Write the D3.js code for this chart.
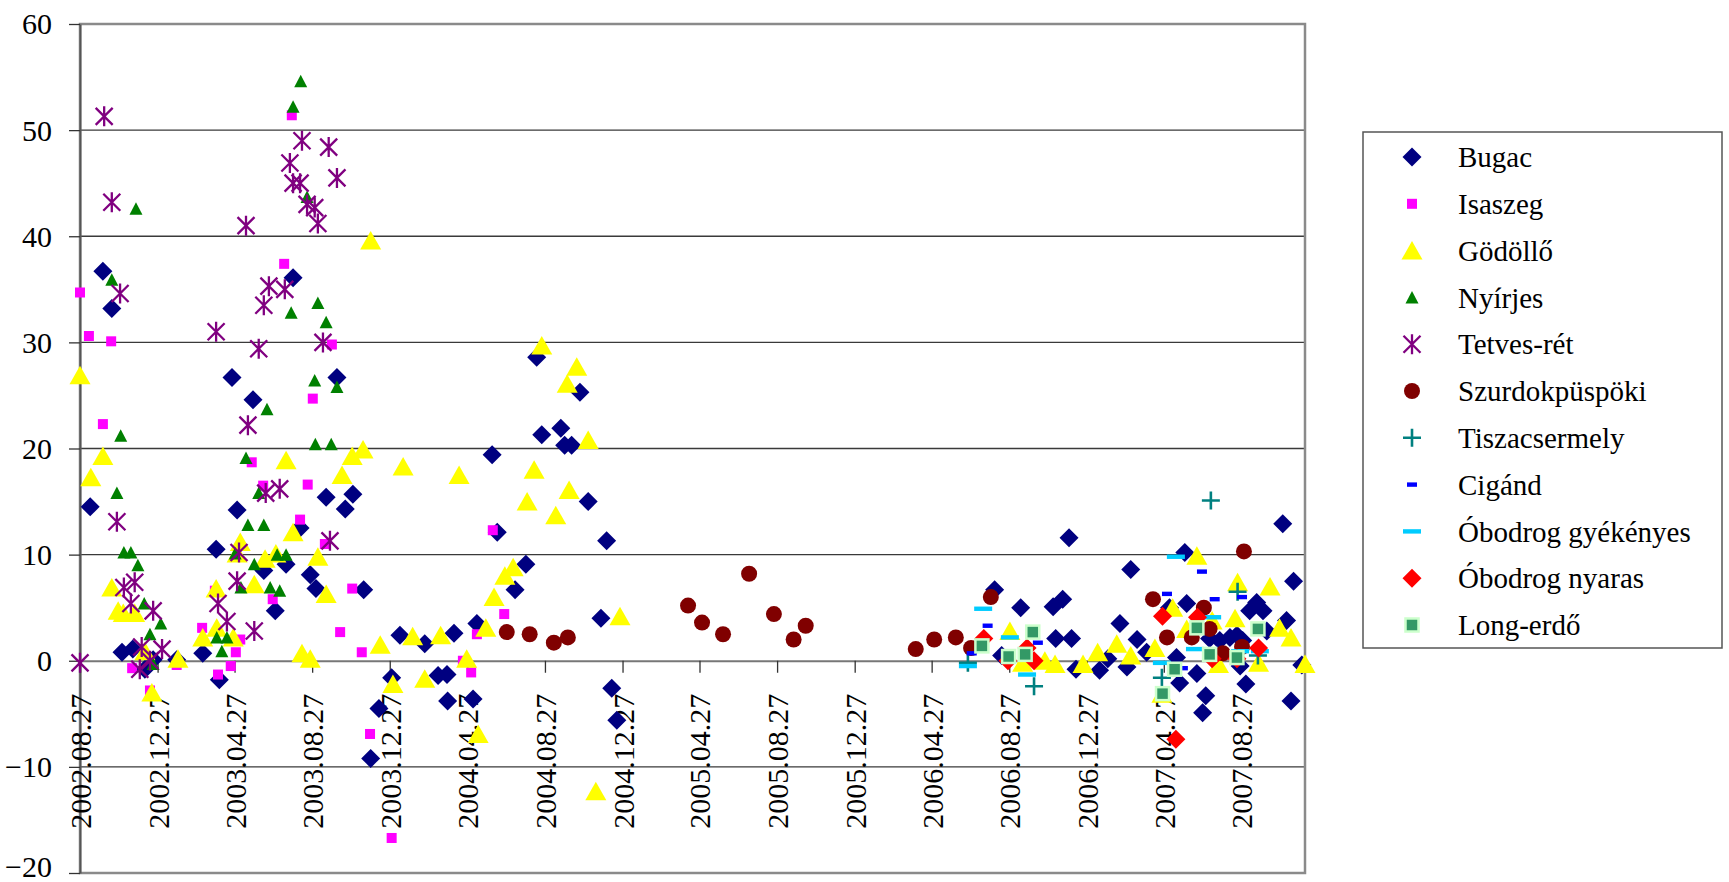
<!DOCTYPE html>
<html>
<head>
<meta charset="utf-8">
<script src="https://cdn.jsdelivr.net/npm/d3@7"></script>
<style>
  body { margin: 0; background: #fff; }
  svg { display: block; }
</style>
</head>
<body>
<div class="canvas"></div>
<script>
// tick labels
const xTickLabels = ['2002.08.27','2002.12.27','2003.04.27','2003.08.27','2003.12.27','2004.04.27',
  '2004.08.27','2004.12.27','2005.04.27','2005.08.27','2005.12.27','2006.04.27','2006.08.27',
  '2006.12.27','2007.04.27','2007.08.27']
const yTicks = [60, 50, 40, 30, 20, 10, 0, -10, -20]

// series values [date, value]
const bugac = [
  ['2002-09-12',14.5],['2002-10-02',36.7],['2002-10-16',33.2],['2002-11-01',0.8],['2002-11-18',1.1],
  ['2002-12-07',-0.8],['2002-12-20',0.1],['2003-01-26',0.1],['2003-03-08',0.7],['2003-03-29',10.5],
  ['2003-04-03',-1.8],['2003-04-23',26.7],['2003-05-01',14.2],['2003-05-26',24.6],['2003-06-12',8.5],
  ['2003-06-30',4.7],['2003-07-17',9.1],['2003-07-28',36.1],['2003-08-08',12.5],['2003-08-24',8.1],
  ['2003-09-02',6.8],['2003-09-18',15.4],['2003-10-05',26.7],['2003-10-18',14.3],['2003-10-30',15.7],
  ['2003-11-16',6.7],['2003-11-27',-9.2],['2003-12-10',-4.5],['2003-12-30',-1.6],['2004-01-12',2.4],
  ['2004-02-20',1.6],['2004-03-12',-1.4],['2004-03-26',-1.3],['2004-03-27',-3.8],['2004-04-06',2.6],
  ['2004-05-06',-3.6],['2004-05-12',3.5],['2004-06-05',19.4],['2004-06-13',12.1],['2004-07-11',6.7],
  ['2004-07-28',9.1],['2004-08-14',28.6],['2004-08-22',21.3],['2004-09-21',21.9],['2004-09-27',20.3],
  ['2004-10-08',20.3],['2004-10-21',25.3],['2004-11-03',15.0],['2004-11-23',4.0],['2004-12-02',11.3],
  ['2004-12-10',-2.6],['2004-12-18',-5.6],
  ['2006-08-04',6.7],['2006-08-15',0.5],['2006-09-14',5.0],['2006-11-04',5.1],['2006-11-08',2.1],
  ['2006-11-19',5.8],['2006-11-29',11.6],['2006-12-03',2.1],['2006-12-10',-0.8],['2007-01-16',-0.9],
  ['2007-01-29',0.2],['2007-02-17',3.5],['2007-02-28',-0.6],['2007-03-06',8.6],['2007-03-16',2.0],
  ['2007-03-31',0.8],['2007-05-06',5.0],['2007-05-17',0.3],['2007-05-22',-2.1],['2007-05-30',10.2],
  ['2007-06-02',5.4],['2007-06-18',-1.2],['2007-06-27',-4.9],['2007-07-02',-3.3],['2007-07-08',2.1],
  ['2007-07-24',1.9],['2007-08-09',2.2],['2007-08-20',2.4],['2007-08-25',-0.5],['2007-08-29',1.9],
  ['2007-09-03',-2.2],['2007-09-09',4.7],['2007-09-20',5.5],['2007-09-30',4.7],['2007-10-06',2.8],
  ['2007-10-31',12.9],['2007-11-06',3.8],['2007-11-13',-3.8],['2007-11-17',7.5],['2007-11-30',-0.4]
]
const isaszeg = [
  ['2002-08-27',34.7],['2002-09-10',30.6],['2002-10-15',30.1],['2002-10-02',22.3],['2002-10-29',4.4],
  ['2002-11-17',-0.7],['2002-12-15',-2.8],['2003-01-26',-0.4],['2003-03-07',3.1],['2003-03-27',6.6],
  ['2003-04-01',-1.3],['2003-04-21',-0.5],['2003-04-29',0.8],['2003-05-06',2.0],['2003-05-24',18.7],
  ['2003-06-11',16.5],['2003-06-26',5.8],['2003-07-14',37.4],['2003-07-26',51.4],['2003-08-08',13.3],
  ['2003-08-20',16.6],['2003-08-28',24.7],['2003-09-16',11.0],['2003-09-27',29.8],['2003-10-10',2.7],
  ['2003-10-29',6.8],['2003-11-13',0.8],['2003-11-26',-6.9],['2003-12-30',-16.7],['2004-04-20',0.0],
  ['2004-05-03',-1.1],['2004-05-12',2.5],['2004-06-06',12.3],['2004-06-24',4.4]
]
const godollo = [
  ['2002-08-27',26.9],['2002-09-13',17.3],['2002-10-02',19.3],['2002-10-16',6.9],['2002-10-26',4.7],
  ['2002-11-03',4.5],['2002-11-21',4.5],['2002-12-07',0.9],['2002-12-18',-3.0],['2003-01-28',0.2],
  ['2003-03-08',2.2],['2003-03-29',6.8],['2003-03-30',3.1],['2003-04-25',2.2],['2003-05-01',10.1],
  ['2003-05-06',11.2],['2003-05-28',7.2],['2003-06-14',9.6],['2003-07-01',10.1],['2003-07-17',18.9],
  ['2003-07-28',12.1],['2003-08-11',0.7],['2003-08-24',0.2],['2003-09-05',9.8],['2003-09-18',6.3],
  ['2003-10-13',17.5],['2003-10-29',19.3],['2003-11-15',19.9],['2003-11-27',39.6],['2003-12-12',1.5],
  ['2004-01-01',-2.2],['2004-01-17',18.3],['2004-02-01',2.3],['2004-02-20',-1.7],['2004-03-16',2.4],
  ['2004-04-14',17.5],['2004-04-26',0.2],['2004-05-14',-6.9],['2004-05-26',3.1],['2004-06-08',6.0],
  ['2004-06-25',8.0],['2004-07-08',8.8],['2004-07-30',15.0],['2004-08-10',18.0],['2004-08-22',29.7],
  ['2004-09-13',13.7],['2004-10-01',26.1],['2004-10-04',16.1],['2004-10-16',27.7],['2004-11-03',20.8],
  ['2004-11-15',-12.3],['2004-12-23',4.2],
  ['2006-08-28',2.8],['2006-09-17',-0.2],['2006-10-22',0.0],['2006-11-07',-0.3],['2006-12-21',-0.3],
  ['2007-01-13',0.8],['2007-02-12',1.6],['2007-03-06',0.5],['2007-04-13',1.2],['2007-04-24',-3.1],
  ['2007-05-11',5.0],['2007-06-02',3.0],['2007-06-18',9.9],['2007-07-12',3.8],['2007-07-22',-0.3],
  ['2007-08-17',4.0],['2007-08-21',7.4],['2007-09-23',-0.2],['2007-10-11',7.0],['2007-10-26',3.1],
  ['2007-11-13',2.2],['2007-12-05',-0.3]
]
const nyirjes = [
  ['2002-10-16',35.9],['2002-10-24',15.8],['2002-10-30',21.2],['2002-11-04',10.2],['2002-11-15',10.2],
  ['2002-11-23',42.6],['2002-11-26',9.0],['2002-12-06',5.4],['2002-12-15',2.5],['2002-12-20',-0.3],
  ['2003-01-01',3.5],['2003-03-30',2.2],['2003-04-07',0.9],['2003-04-15',2.2],['2003-04-28',10.1],
  ['2003-05-07',6.9],['2003-05-15',19.1],['2003-05-18',12.8],['2003-05-28',9.1],['2003-06-04',15.8],
  ['2003-06-12',12.8],['2003-06-17',23.7],['2003-06-22',6.9],['2003-07-03',10.0],['2003-07-07',6.6],
  ['2003-07-17',10.0],['2003-07-25',32.8],['2003-07-28',52.2],['2003-08-09',54.6],['2003-08-19',43.7],
  ['2003-08-31',26.4],['2003-09-01',20.4],['2003-09-05',33.7],['2003-09-18',31.9],['2003-09-26',20.4],
  ['2003-10-05',25.8]
]
const tetves = [
  ['2002-08-27',-0.2],['2002-10-04',51.3],['2002-10-16',43.2],['2002-10-24',13.1],['2002-10-29',34.6],
  ['2002-11-04',6.9],['2002-11-15',5.4],['2002-11-21',7.4],['2002-11-29',-0.8],['2002-12-02',1.3],
  ['2002-12-15',0.0],['2002-12-20',4.7],['2003-01-03',1.1],['2003-03-29',31.0],['2003-04-01',5.4],
  ['2003-04-15',3.7],['2003-05-01',7.5],['2003-05-04',10.2],['2003-05-15',41.0],['2003-05-18',22.2],
  ['2003-05-28',2.8],['2003-06-04',29.4],['2003-06-12',33.5],['2003-06-15',15.8],['2003-06-20',35.3],
  ['2003-07-07',16.2],['2003-07-15',35.0],['2003-07-23',46.9],['2003-07-28',45.0],['2003-08-08',45.0],
  ['2003-08-11',49.0],['2003-08-19',43.0],['2003-08-31',42.7],['2003-09-05',41.2],['2003-09-13',30.0],
  ['2003-09-22',48.4],['2003-09-24',11.3],['2003-10-05',45.5]
]
const szurdok = [
  ['2004-06-28',2.7],['2004-08-03',2.5],['2004-09-10',1.7],['2004-10-02',2.2],['2005-04-09',5.2],
  ['2005-05-01',3.6],['2005-06-03',2.5],['2005-07-14',8.2],['2005-08-22',4.4],['2005-09-22',2.0],
  ['2005-10-11',3.3],['2006-04-02',1.1],['2006-05-01',2.0],['2006-06-04',2.2],['2006-06-28',1.2],
  ['2006-07-29',6.0],['2007-04-10',5.8],['2007-05-02',2.2],['2007-06-10',2.2],['2007-06-29',5.0],
  ['2007-07-08',3.0],['2007-07-29',0.7],['2007-08-28',1.3],['2007-08-31',10.3]
]
const tiszacs = [
  ['2006-06-23',-0.2],['2006-10-05',-2.4],['2007-04-24',-1.6],['2007-07-10',15.1],['2007-08-21',6.5],
  ['2007-09-22',0.5]
]
const cigand = [
  ['2006-06-29',0.7],['2006-07-24',3.3],['2006-10-11',1.7],['2007-05-02',6.3],['2007-05-27',-0.7],
  ['2007-06-26',8.4],['2007-07-16',5.8],['2007-08-28',6.0]
]
const obGyek = [
  ['2006-06-23',-0.5],['2006-07-17',4.9],['2006-08-28',2.2],['2006-09-24',-1.3],['2007-04-24',-0.2],
  ['2007-05-16',9.8],['2007-06-15',1.1],['2007-07-12',4.1],['2007-08-25',0.9],['2007-09-25',0.9]
]
const obNyar = [
  ['2006-07-18',2.1],['2006-08-25',0.0],['2006-09-24',1.2],['2006-10-05',0.0],['2007-04-25',4.2],
  ['2007-05-16',-7.4],['2007-06-19',4.1],['2007-07-12',0.2],['2007-08-20',0.2],['2007-09-23',1.2]
]
const longErdo = [
  ['2006-07-15',1.4],['2006-08-26',0.4],['2006-09-21',0.6],['2006-10-03',2.7],['2007-04-25',-3.1],
  ['2007-05-14',-0.8],['2007-06-18',3.1],['2007-07-08',0.6],['2007-08-20',0.3],['2007-09-22',3.0]
]

const series = [
  {name: 'Bugac', data: bugac, shape: 'diamond', color: '#000080'},
  {name: 'Isaszeg', data: isaszeg, shape: 'square', color: '#ff00ff'},
  {name: 'Gödöllő', data: godollo, shape: 'bigTri', color: '#ffff00'},
  {name: 'Nyírjes', data: nyirjes, shape: 'smallTri', color: '#008000'},
  {name: 'Tetves-rét', data: tetves, shape: 'star', color: '#800080'},
  {name: 'Szurdokpüspöki', data: szurdok, shape: 'circle', color: '#800000'},
  {name: 'Tiszacsermely', data: tiszacs, shape: 'plus', color: '#008080'},
  {name: 'Cigánd', data: cigand, shape: 'shortDash', color: '#0000ff'},
  {name: 'Óbodrog gyékényes', data: obGyek, shape: 'longDash', color: '#00ccff'},
  {name: 'Óbodrog nyaras', data: obNyar, shape: 'diamond', color: '#ff0000'},
  {name: 'Long-erdő', data: longErdo, shape: 'boxed', color: '#339966'}
]

const serifFont = 'Liberation Serif, Times New Roman, Tinos, DejaVu Serif, serif'

const parseDate = d3.timeParse('%Y-%m-%d')
const parseTick = d3.timeParse('%Y.%m.%d')

const svg = d3.select('.canvas').append('svg')
  .attr('width', 1729)
  .attr('height', 882)
  .attr('font-family', serifFont)

const plot = {left: 80, right: 1305, top: 24, bottom: 873}

const x = d3.scaleTime()
  .domain([parseDate('2002-08-27'), parseDate('2007-12-05')])
  .range([plot.left, plot.right])

const y = d3.scaleLinear()
  .domain([-20, 60])
  .range([plot.bottom, plot.top])

// gridlines
svg.append('g').selectAll('line')
  .data(yTicks.filter(v => v !== 0 && v !== 60 && v !== -20))
  .enter().append('line')
  .attr('x1', plot.left).attr('x2', plot.right)
  .attr('y1', d => y(d)).attr('y2', d => y(d))
  .attr('stroke', '#3a3a3a').attr('stroke-width', 1.3)

// frame
svg.append('rect')
  .attr('x', plot.left).attr('y', plot.top)
  .attr('width', plot.right - plot.left).attr('height', plot.bottom - plot.top)
  .attr('fill', 'none').attr('stroke', '#8a8a8a').attr('stroke-width', 2.5)

// y axis
const yAxis = svg.append('g')
  .attr('transform', `translate(${plot.left},0)`)
  .call(d3.axisLeft(y).tickValues(yTicks).tickSize(11).tickPadding(17).tickSizeOuter(0))
yAxis.attr('font-family', serifFont).attr('font-size', 30)
yAxis.select('.domain').attr('stroke', '#555').attr('stroke-width', 2)
yAxis.selectAll('.tick line').attr('stroke', '#333').attr('stroke-width', 1.3)
yAxis.selectAll('text')
  .attr('fill', '#000')
  .attr('dy', d => d === -20 ? '0.12em' : '0.33em')

// x axis at zero
const xAxis = svg.append('g')
  .attr('transform', `translate(0,${y(0)})`)
  .call(d3.axisBottom(x)
    .tickValues(xTickLabels.map(parseTick))
    .tickSize(12)
    .tickSizeOuter(0)
    .tickFormat(d3.timeFormat('%Y.%m.%d')))
xAxis.attr('font-family', serifFont).attr('font-size', 30)
xAxis.select('.domain').attr('stroke', '#777').attr('stroke-width', 2)
xAxis.selectAll('.tick line').attr('stroke', '#333').attr('stroke-width', 1.3)
xAxis.selectAll('text')
  .attr('fill', '#000')
  .attr('transform', 'rotate(-90)')
  .attr('text-anchor', 'end')
  .attr('x', -33)
  .attr('y', 0)
  .attr('dy', '0.35em')

// marker drawing
const drawMarker = (g, shape, color) => {
  if (shape === 'diamond') {
    g.append('path').attr('d', 'M0,-9.5L9.5,0L0,9.5L-9.5,0Z').attr('fill', color)
  } else if (shape === 'square') {
    g.append('rect').attr('x', -5).attr('y', -5).attr('width', 10).attr('height', 10).attr('fill', color)
  } else if (shape === 'bigTri') {
    g.append('path').attr('d', 'M0,-9.5L10.5,9L-10.5,9Z').attr('fill', color)
  } else if (shape === 'smallTri') {
    g.append('path').attr('d', 'M0,-6.5L6.5,6L-6.5,6Z').attr('fill', color)
  } else if (shape === 'star') {
    g.append('path').attr('d', 'M-8.5,-8.5L8.5,8.5M-8.5,8.5L8.5,-8.5M0,-10L0,10')
      .attr('stroke', color).attr('stroke-width', 2.3).attr('fill', 'none')
  } else if (shape === 'circle') {
    g.append('circle').attr('r', 8).attr('fill', color)
  } else if (shape === 'plus') {
    g.append('path').attr('d', 'M-9,0L9,0M0,-9L0,9')
      .attr('stroke', color).attr('stroke-width', 2.6).attr('fill', 'none')
  } else if (shape === 'shortDash') {
    g.append('rect').attr('x', -5).attr('y', -2.2).attr('width', 10).attr('height', 4.4).attr('fill', color)
  } else if (shape === 'longDash') {
    g.append('rect').attr('x', -9).attr('y', -2.2).attr('width', 18).attr('height', 4.4).attr('fill', color)
  } else if (shape === 'boxed') {
    g.append('rect').attr('x', -6.5).attr('y', -6.5).attr('width', 13).attr('height', 13)
      .attr('fill', color).attr('stroke', '#ccffcc').attr('stroke-width', 2.5)
  }
}

// points
series.forEach(s => {
  svg.append('g').selectAll('g')
    .data(s.data)
    .enter().append('g')
    .attr('transform', d => `translate(${x(parseDate(d[0]))},${y(d[1])})`)
    .each(function () { drawMarker(d3.select(this), s.shape, s.color) })
})

// legend
const legend = svg.append('g')
legend.append('rect')
  .attr('x', 1363).attr('y', 132).attr('width', 359).attr('height', 516)
  .attr('fill', '#fff').attr('stroke', '#555').attr('stroke-width', 1.5)

const item = legend.selectAll('.item')
  .data(series)
  .enter().append('g')
  .attr('class', 'item')
  .attr('transform', (d, i) => `translate(1412,${157 + i * 46.8})`)
item.each(function (d) { drawMarker(d3.select(this), d.shape, d.color) })
item.append('text')
  .attr('x', 46)
  .attr('dy', '0.35em')
  .attr('font-size', 29)
  .attr('fill', '#000')
  .text(d => d.name)
</script>
</body>
</html>
